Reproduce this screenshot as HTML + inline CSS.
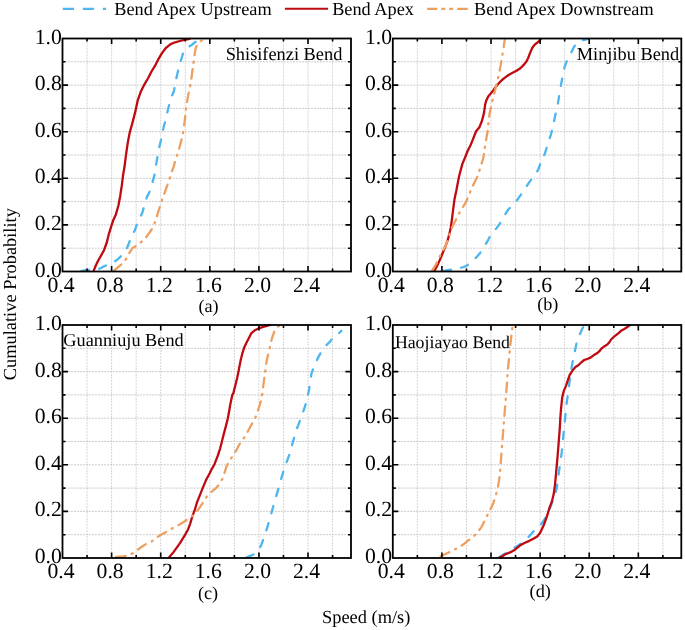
<!DOCTYPE html>
<html><head><meta charset="utf-8"><style>
html,body{margin:0;padding:0;background:#fff;width:685px;height:630px;overflow:hidden}
svg{will-change:transform}
svg text{font-family:"Liberation Serif", serif;fill:#000;text-rendering:geometricPrecision}
</style></head><body>
<svg width="685" height="630" viewBox="0 0 685 630" style="position:absolute;left:0;top:0">
<defs><clipPath id="clipa"><rect x="62.5" y="37" width="288.5" height="234.5"/></clipPath><clipPath id="clipb"><rect x="392.8" y="37" width="288.5" height="234.5"/></clipPath><clipPath id="clipc"><rect x="62.5" y="323.5" width="288.5" height="234.5"/></clipPath><clipPath id="clipd"><rect x="392.8" y="323.5" width="288.5" height="234.5"/></clipPath></defs>
<path d="M87.05 38.5V271.5M111.61 38.5V271.5M136.16 38.5V271.5M160.71 38.5V271.5M185.27 38.5V271.5M209.82 38.5V271.5M234.37 38.5V271.5M258.93 38.5V271.5M283.48 38.5V271.5M308.03 38.5V271.5M332.59 38.5V271.5" stroke="#d5d5d5" stroke-width="1" stroke-dasharray="2 1" stroke-dashoffset="2.8" fill="none"/>
<path d="M62.5 248.2H351M62.5 224.9H351M62.5 201.6H351M62.5 178.3H351M62.5 155H351M62.5 131.7H351M62.5 108.4H351M62.5 85.1H351M62.5 61.8H351" stroke="#cbcbcb" stroke-width="1" stroke-dasharray="2 1" stroke-dashoffset="0.6" fill="none"/>
<path d="M417.35 38.5V271.5M441.91 38.5V271.5M466.46 38.5V271.5M491.01 38.5V271.5M515.57 38.5V271.5M540.12 38.5V271.5M564.67 38.5V271.5M589.23 38.5V271.5M613.78 38.5V271.5M638.33 38.5V271.5M662.89 38.5V271.5" stroke="#d5d5d5" stroke-width="1" stroke-dasharray="2 1" stroke-dashoffset="2.8" fill="none"/>
<path d="M392.8 248.2H681.3M392.8 224.9H681.3M392.8 201.6H681.3M392.8 178.3H681.3M392.8 155H681.3M392.8 131.7H681.3M392.8 108.4H681.3M392.8 85.1H681.3M392.8 61.8H681.3" stroke="#cbcbcb" stroke-width="1" stroke-dasharray="2 1" stroke-dashoffset="0.6" fill="none"/>
<path d="M87.05 325V558M111.61 325V558M136.16 325V558M160.71 325V558M185.27 325V558M209.82 325V558M234.37 325V558M258.93 325V558M283.48 325V558M308.03 325V558M332.59 325V558" stroke="#d5d5d5" stroke-width="1" stroke-dasharray="2 1" stroke-dashoffset="2" fill="none"/>
<path d="M62.5 534.7H351M62.5 511.4H351M62.5 488.1H351M62.5 464.8H351M62.5 441.5H351M62.5 418.2H351M62.5 394.9H351M62.5 371.6H351M62.5 348.3H351" stroke="#cbcbcb" stroke-width="1" stroke-dasharray="2 1" stroke-dashoffset="0.6" fill="none"/>
<path d="M417.35 325V558M441.91 325V558M466.46 325V558M491.01 325V558M515.57 325V558M540.12 325V558M564.67 325V558M589.23 325V558M613.78 325V558M638.33 325V558M662.89 325V558" stroke="#d5d5d5" stroke-width="1" stroke-dasharray="2 1" stroke-dashoffset="2" fill="none"/>
<path d="M392.8 534.7H681.3M392.8 511.4H681.3M392.8 488.1H681.3M392.8 464.8H681.3M392.8 441.5H681.3M392.8 418.2H681.3M392.8 394.9H681.3M392.8 371.6H681.3M392.8 348.3H681.3" stroke="#cbcbcb" stroke-width="1" stroke-dasharray="2 1" stroke-dashoffset="0.6" fill="none"/>
<text x="225.67" y="60.0" font-size="18.35">Shisifenzi Bend</text>
<text x="576.77" y="59.6" font-size="18.35">Minjibu Bend</text>
<text x="63.35" y="346.0" font-size="18.3">Guanniuju Bend</text>
<text x="394.88" y="347.9" font-size="17.8">Haojiayao Bend</text>
<g clip-path="url(#clipa)">
<polyline points="81.6,270.8 86,270.2 90.3,269.9 97.4,269.6 101,268 104.6,266.1 110,263.9 116.1,260.6 119.9,257.3 125.9,250.7 128.1,245.3 130.8,238.1 134.9,230.2 136.9,224.3 140.2,217 142.2,213.1 144.8,203.9 146.8,197.3 150.7,189.5 152.7,181.6 154.7,174 156,165.4 157.3,157.6 158.6,149.7 160.6,141.8 161.9,135.2 163.9,126 165.8,119.5 167.8,110.3 170.6,99.1 173.9,91.2 175.8,80.7 178.5,68.8 181.1,59.7 183.1,53.1 185.7,48.5 189,46.5 192.3,44.5 195.5,41.9 200.1,39.9 204.1,38.9" fill="none" stroke="#4DB5F0" stroke-width="2.3" stroke-dasharray="7.5 10.3" stroke-linecap="round" stroke-linejoin="round"/>
<polyline points="93.6,270.9 95.8,265.5 98.5,260 101.3,255.1 104,250.2 106.8,242.5 108.9,233.8 111.3,226.2 113.2,220.3 115.9,214.4 118.5,205.2 120.2,196 121.8,185.5 123.1,175 124.5,166.8 126,154.9 127.7,143.1 129.7,132.6 132.3,123.4 135,112.9 137.7,100.4 141,91.2 144.3,84.6 148.2,78 151.5,71.5 154.8,66.2 158.1,59.7 162,53.1 166,47.8 170.6,44.1 175.2,42.3 179.8,41 184.4,39.9 189.6,38.9" fill="none" stroke="#BE0A10" stroke-width="2.3" stroke-linejoin="round" stroke-linecap="round"/>
<polyline points="113.9,270.6 118.8,266.6 123.2,262.8 127,257.8 129.7,252.4 132.5,248 136.3,245.8 140.7,242.5 145.4,238.1 149.4,232.8 152,228.9 154,224.9 155.9,219.7 157.9,213.1 159.9,206.5 162.5,198.7 165.8,189.5 169.1,180.3 171.1,173.3 173.7,166.8 175.7,158.9 177.7,153.6 179.6,147 181.6,139.2 183.6,130 184.9,119.5 186.2,106.3 187,101.7 189,91.2 190.9,82 192.3,71.5 193.6,62.3 194.6,54.4 195.5,49.1 196.9,45.2 198.8,42.6 202.1,40.2 205.4,38.9" fill="none" stroke="#EDA060" stroke-width="2.3" stroke-dasharray="9.5 6.5 1.2 6.5" stroke-linecap="round" stroke-linejoin="round"/>
</g>
<g clip-path="url(#clipb)">
<polyline points="443.6,270.9 449.6,269.9 457.8,268.8 466.1,266.1 471.5,262.2 475.4,258.4 479.7,253.5 484.1,247 488.1,240.1 491.4,233.5 496.6,228.2 499.9,223.6 503.8,216.4 508.3,209.5 514,203.6 517.8,199.2 523.5,190.9 527.3,185.2 531.7,178.9 534.9,174.4 538.1,170 540.6,163 543.8,156.6 546.3,149 548.2,142.7 550.8,135.1 553.3,124.9 555.6,113.8 558,102.7 559.6,93.1 561.2,83.6 562.8,75.7 564.4,67.7 566.7,61.4 569.1,56.6 571.5,51.9 573.9,47.1 577.1,42.3 581,40.4 585.8,39.5 588.2,38.9" fill="none" stroke="#4DB5F0" stroke-width="2.3" stroke-dasharray="7.5 10.3" stroke-linecap="round" stroke-linejoin="round"/>
<polyline points="434.3,271 437,266.1 439.8,260 442.5,253.5 445.3,246.9 448,239.2 449.6,232.7 450.8,227.5 451.9,219.7 453.2,209.2 454.6,198.7 456.3,190.8 457.8,182.9 459.4,175 462.3,164.1 465,157.6 467.6,151 470.9,144.4 473.5,137.8 476.1,131.3 479.4,127.3 482,120.8 484,112.9 485.2,104.3 486.3,100.4 488.2,96.4 492.2,91.8 495.5,87.2 498.8,83.3 502,80 505.3,77.4 508.6,75 512.6,72.8 516.5,70.8 520.4,68.2 523.7,64.9 526.4,61.6 528.3,57.7 530.3,52.4 532.3,47.8 534.9,44.5 538.2,41.9 540.8,39" fill="none" stroke="#BE0A10" stroke-width="2.3" stroke-linejoin="round" stroke-linecap="round"/>
<polyline points="432.1,270.6 436,264.4 440,256 443.4,249.9 445.4,246 448,239.4 450,232.8 452.6,226.2 455.9,219.7 458.5,214.4 462.4,207.8 465.7,202.6 469,194.7 472.3,186.8 475.6,180.3 478.2,175 479.4,170.7 481.4,164.1 483.4,157.6 484.7,148.4 486.2,139.2 487.6,131.3 488.6,120.8 489.7,112.9 490.9,107.6 492.2,101.7 493.5,96.4 495.5,88.6 497.4,80.7 499.2,72.8 500.7,64.9 502,57 503.4,49.1 504.7,39.9 504.9,38.9" fill="none" stroke="#EDA060" stroke-width="2.3" stroke-dasharray="9.5 6.5 1.2 6.5" stroke-linecap="round" stroke-linejoin="round"/>
</g>
<g clip-path="url(#clipc)">
<polyline points="246.6,557.3 253.1,554.7 258.2,551 261.2,545.2 264.1,537.2 267,528.4 269.9,518.2 272.8,508 275.8,497.7 278.7,487.5 281.6,477.3 283.8,470 286.3,462.9 288.9,455.9 290.8,449.6 292.7,442.6 295.2,434.3 297.1,428 299.6,421.6 302.2,414.7 305.4,405.2 307.3,398.2 309,389.9 310.2,382.3 311.5,373.4 314.1,366.4 317.2,359.4 320.4,353.3 325.5,346 330,341.6 334.4,335.9 337.6,334.6 341.4,330.8" fill="none" stroke="#4DB5F0" stroke-width="2.3" stroke-dasharray="7.5 10.3" stroke-linecap="round" stroke-linejoin="round"/>
<polyline points="169.3,557 172.8,553.1 176.6,547.9 180.3,542.6 184.9,535.1 187.9,529.8 190.1,523.8 192.4,516.2 194.7,510.2 196.9,502.7 199.9,495.1 202.9,487.6 206,480.1 209.7,473.3 212,468.6 214.5,464.2 217.7,455.9 220.2,448.3 222.1,440.7 224,433.1 225.9,426.1 227.8,418.5 229.1,411.5 230.4,403.9 232.3,395 233.4,393.1 235.3,385.5 237.2,377.8 238.5,371.5 239.7,365.1 241,358.8 242.3,353.7 244.2,347.4 246.7,342.3 249.3,337.2 251.2,333.4 255,330.2 258.8,328.3 263.2,326.8 267,325.8 270,325" fill="none" stroke="#BE0A10" stroke-width="2.3" stroke-linejoin="round" stroke-linecap="round"/>
<polyline points="116.2,556.9 122.9,556.4 129,555.4 133.6,552.8 137.7,549.7 141.8,546.7 145.9,544.1 151.5,541.6 156.1,538 160.7,534.9 166.3,531.9 172.4,528.3 179.6,524.5 185.6,520.7 190.1,517.7 193.9,514.7 198.4,509.4 202.9,502.7 206.7,496.6 211.2,492.1 215.7,488.4 219.5,483.8 222.5,478.6 224.8,471.8 226.6,466.1 229.7,461 232.9,455.3 236.1,450.8 239.3,444.5 243.1,439.4 246.9,433.1 250.7,426.1 253.9,420.4 256.4,415.3 258.9,407.7 260.8,401.3 262.2,394.3 263.5,384.2 264.5,376.6 265.5,369 266.4,362.6 267.7,356.3 269.3,349.9 270.8,342.3 272.7,336 274.6,330.9 277.2,327.1 280.4,325.3" fill="none" stroke="#EDA060" stroke-width="2.3" stroke-dasharray="9.5 6.5 1.2 6.5" stroke-linecap="round" stroke-linejoin="round"/>
</g>
<g clip-path="url(#clipd)">
<polyline points="499.5,557.2 502.5,555.1 507.1,552.4 513.1,548.6 519.1,544.9 524.4,541.1 529.7,535.8 534.9,529.8 540.2,525.3 544.7,519.2 548.5,511.7 551.5,504.2 554.5,496.6 556.8,487.6 558.3,477.1 559.8,465 561.6,453.5 562.9,440.8 564.1,428.1 565.4,415.4 566.7,402.7 568.6,390 570.2,375.7 571.4,368.7 573.1,359.4 574.9,351.2 576.6,343 578.9,336.6 582.4,328.4 584.2,325.6" fill="none" stroke="#4DB5F0" stroke-width="2.3" stroke-dasharray="7.5 10.3" stroke-linecap="round" stroke-linejoin="round"/>
<polyline points="499.2,557.5 501,556.9 505.5,554.2 510.1,552.4 515.3,549.4 519.9,545.6 524.4,543 528.9,541.1 533.4,538.8 537.2,536.6 540.2,532.8 544,524.5 547,516.2 549.2,508.7 552,501.2 553.8,493.6 555,484.6 556,474 556.8,465 557.8,453.5 558.8,440.8 559.7,429.4 560.3,418.6 561,409 562.2,397.6 563.8,390.9 566.1,385.6 567.8,380.4 569.6,375.1 572.5,370.5 575.4,367 578.4,365.2 581.3,362.3 584.2,360 587.7,358.8 590.6,357.6 593.5,355.3 597,353.3 599.4,351.2 601.7,348.3 604.1,346.5 607,344.8 609.3,342.4 611.1,339.5 613.4,337.2 615.7,335.4 618.6,333.1 621,330.8 623.9,329.2 626.2,327.8 628.6,326.1 629.8,325.2" fill="none" stroke="#BE0A10" stroke-width="2.3" stroke-linejoin="round" stroke-linecap="round"/>
<polyline points="440.7,556.4 445,554.3 450.7,551.4 457.9,547.9 463.6,544.3 467.9,540.7 472.9,537.1 477.9,532.1 481.4,527.1 485.7,518.6 489.3,511.4 492.9,504.3 495.7,495.7 497.9,487.1 499.3,478.6 500.2,470 502.4,441 504.3,417.2 506.2,393.4 507.9,369.6 510.2,345.8 512.6,325.6" fill="none" stroke="#EDA060" stroke-width="2.3" stroke-dasharray="9.5 6.5 1.2 6.5" stroke-linecap="round" stroke-linejoin="round"/>
</g>
<path d="M87.05 271.5v-3M87.05 38.5v3M111.61 271.5v-5.5M111.61 38.5v5.5M136.16 271.5v-3M136.16 38.5v3M160.71 271.5v-5.5M160.71 38.5v5.5M185.27 271.5v-3M185.27 38.5v3M209.82 271.5v-5.5M209.82 38.5v5.5M234.37 271.5v-3M234.37 38.5v3M258.93 271.5v-5.5M258.93 38.5v5.5M283.48 271.5v-3M283.48 38.5v3M308.03 271.5v-5.5M308.03 38.5v5.5M332.59 271.5v-3M332.59 38.5v3M62.5 248.2h3M351 248.2h-3M62.5 224.9h5.5M351 224.9h-5.5M62.5 201.6h3M351 201.6h-3M62.5 178.3h5.5M351 178.3h-5.5M62.5 155h3M351 155h-3M62.5 131.7h5.5M351 131.7h-5.5M62.5 108.4h3M351 108.4h-3M62.5 85.1h5.5M351 85.1h-5.5M62.5 61.8h3M351 61.8h-3" stroke="#000" stroke-width="1.6" fill="none"/>
<rect x="62.5" y="38.5" width="288.5" height="233" fill="none" stroke="#000" stroke-width="1.8"/>
<path d="M417.35 271.5v-3M417.35 38.5v3M441.91 271.5v-5.5M441.91 38.5v5.5M466.46 271.5v-3M466.46 38.5v3M491.01 271.5v-5.5M491.01 38.5v5.5M515.57 271.5v-3M515.57 38.5v3M540.12 271.5v-5.5M540.12 38.5v5.5M564.67 271.5v-3M564.67 38.5v3M589.23 271.5v-5.5M589.23 38.5v5.5M613.78 271.5v-3M613.78 38.5v3M638.33 271.5v-5.5M638.33 38.5v5.5M662.89 271.5v-3M662.89 38.5v3M392.8 248.2h3M681.3 248.2h-3M392.8 224.9h5.5M681.3 224.9h-5.5M392.8 201.6h3M681.3 201.6h-3M392.8 178.3h5.5M681.3 178.3h-5.5M392.8 155h3M681.3 155h-3M392.8 131.7h5.5M681.3 131.7h-5.5M392.8 108.4h3M681.3 108.4h-3M392.8 85.1h5.5M681.3 85.1h-5.5M392.8 61.8h3M681.3 61.8h-3" stroke="#000" stroke-width="1.6" fill="none"/>
<rect x="392.8" y="38.5" width="288.5" height="233" fill="none" stroke="#000" stroke-width="1.8"/>
<path d="M87.05 558v-3M87.05 325v3M111.61 558v-5.5M111.61 325v5.5M136.16 558v-3M136.16 325v3M160.71 558v-5.5M160.71 325v5.5M185.27 558v-3M185.27 325v3M209.82 558v-5.5M209.82 325v5.5M234.37 558v-3M234.37 325v3M258.93 558v-5.5M258.93 325v5.5M283.48 558v-3M283.48 325v3M308.03 558v-5.5M308.03 325v5.5M332.59 558v-3M332.59 325v3M62.5 534.7h3M351 534.7h-3M62.5 511.4h5.5M351 511.4h-5.5M62.5 488.1h3M351 488.1h-3M62.5 464.8h5.5M351 464.8h-5.5M62.5 441.5h3M351 441.5h-3M62.5 418.2h5.5M351 418.2h-5.5M62.5 394.9h3M351 394.9h-3M62.5 371.6h5.5M351 371.6h-5.5M62.5 348.3h3M351 348.3h-3" stroke="#000" stroke-width="1.6" fill="none"/>
<rect x="62.5" y="325" width="288.5" height="233" fill="none" stroke="#000" stroke-width="1.8"/>
<path d="M417.35 558v-3M417.35 325v3M441.91 558v-5.5M441.91 325v5.5M466.46 558v-3M466.46 325v3M491.01 558v-5.5M491.01 325v5.5M515.57 558v-3M515.57 325v3M540.12 558v-5.5M540.12 325v5.5M564.67 558v-3M564.67 325v3M589.23 558v-5.5M589.23 325v5.5M613.78 558v-3M613.78 325v3M638.33 558v-5.5M638.33 325v5.5M662.89 558v-3M662.89 325v3M392.8 534.7h3M681.3 534.7h-3M392.8 511.4h5.5M681.3 511.4h-5.5M392.8 488.1h3M681.3 488.1h-3M392.8 464.8h5.5M681.3 464.8h-5.5M392.8 441.5h3M681.3 441.5h-3M392.8 418.2h5.5M681.3 418.2h-5.5M392.8 394.9h3M681.3 394.9h-3M392.8 371.6h5.5M681.3 371.6h-5.5M392.8 348.3h3M681.3 348.3h-3" stroke="#000" stroke-width="1.6" fill="none"/>
<rect x="392.8" y="325" width="288.5" height="233" fill="none" stroke="#000" stroke-width="1.8"/>
<text x="61.8" y="276.5" text-anchor="end" font-size="21.7">0.0</text>
<text x="61.8" y="229.9" text-anchor="end" font-size="21.7">0.2</text>
<text x="61.8" y="183.3" text-anchor="end" font-size="21.7">0.4</text>
<text x="61.8" y="136.7" text-anchor="end" font-size="21.7">0.6</text>
<text x="61.8" y="90.1" text-anchor="end" font-size="21.7">0.8</text>
<text x="61.8" y="43.5" text-anchor="end" font-size="21.7">1.0</text>
<text x="61" y="291.7" text-anchor="middle" font-size="21.7">0.4</text>
<text x="110.11" y="291.7" text-anchor="middle" font-size="21.7">0.8</text>
<text x="159.21" y="291.7" text-anchor="middle" font-size="21.7">1.2</text>
<text x="208.32" y="291.7" text-anchor="middle" font-size="21.7">1.6</text>
<text x="257.43" y="291.7" text-anchor="middle" font-size="21.7">2.0</text>
<text x="306.53" y="291.7" text-anchor="middle" font-size="21.7">2.4</text>
<text x="392.1" y="276.5" text-anchor="end" font-size="21.7">0.0</text>
<text x="392.1" y="229.9" text-anchor="end" font-size="21.7">0.2</text>
<text x="392.1" y="183.3" text-anchor="end" font-size="21.7">0.4</text>
<text x="392.1" y="136.7" text-anchor="end" font-size="21.7">0.6</text>
<text x="392.1" y="90.1" text-anchor="end" font-size="21.7">0.8</text>
<text x="392.1" y="43.5" text-anchor="end" font-size="21.7">1.0</text>
<text x="391.3" y="291.7" text-anchor="middle" font-size="21.7">0.4</text>
<text x="440.41" y="291.7" text-anchor="middle" font-size="21.7">0.8</text>
<text x="489.51" y="291.7" text-anchor="middle" font-size="21.7">1.2</text>
<text x="538.62" y="291.7" text-anchor="middle" font-size="21.7">1.6</text>
<text x="587.73" y="291.7" text-anchor="middle" font-size="21.7">2.0</text>
<text x="636.83" y="291.7" text-anchor="middle" font-size="21.7">2.4</text>
<text x="61.8" y="563" text-anchor="end" font-size="21.7">0.0</text>
<text x="61.8" y="516.4" text-anchor="end" font-size="21.7">0.2</text>
<text x="61.8" y="469.8" text-anchor="end" font-size="21.7">0.4</text>
<text x="61.8" y="423.2" text-anchor="end" font-size="21.7">0.6</text>
<text x="61.8" y="376.6" text-anchor="end" font-size="21.7">0.8</text>
<text x="61.8" y="330" text-anchor="end" font-size="21.7">1.0</text>
<text x="61" y="578.2" text-anchor="middle" font-size="21.7">0.4</text>
<text x="110.11" y="578.2" text-anchor="middle" font-size="21.7">0.8</text>
<text x="159.21" y="578.2" text-anchor="middle" font-size="21.7">1.2</text>
<text x="208.32" y="578.2" text-anchor="middle" font-size="21.7">1.6</text>
<text x="257.43" y="578.2" text-anchor="middle" font-size="21.7">2.0</text>
<text x="306.53" y="578.2" text-anchor="middle" font-size="21.7">2.4</text>
<text x="392.1" y="563" text-anchor="end" font-size="21.7">0.0</text>
<text x="392.1" y="516.4" text-anchor="end" font-size="21.7">0.2</text>
<text x="392.1" y="469.8" text-anchor="end" font-size="21.7">0.4</text>
<text x="392.1" y="423.2" text-anchor="end" font-size="21.7">0.6</text>
<text x="392.1" y="376.6" text-anchor="end" font-size="21.7">0.8</text>
<text x="392.1" y="330" text-anchor="end" font-size="21.7">1.0</text>
<text x="391.3" y="578.2" text-anchor="middle" font-size="21.7">0.4</text>
<text x="440.41" y="578.2" text-anchor="middle" font-size="21.7">0.8</text>
<text x="489.51" y="578.2" text-anchor="middle" font-size="21.7">1.2</text>
<text x="538.62" y="578.2" text-anchor="middle" font-size="21.7">1.6</text>
<text x="587.73" y="578.2" text-anchor="middle" font-size="21.7">2.0</text>
<text x="636.83" y="578.2" text-anchor="middle" font-size="21.7">2.4</text>
<text x="208.5" y="311.5" text-anchor="middle" font-size="18.2">(a)</text>
<text x="547.8" y="309.5" text-anchor="middle" font-size="18.2">(b)</text>
<text x="208.0" y="599" text-anchor="middle" font-size="18.2">(c)</text>
<text x="540.2" y="596.5" text-anchor="middle" font-size="18.2">(d)</text>
<text x="321.97" y="622.5" font-size="18.4">Speed (m/s)</text>
<text transform="translate(15.7 380.25) rotate(-90)" font-size="18.4">Cumulative Probability</text>
<path d="M62.8 8.9H74M82.8 8.9H94.1M102.9 8.9H106.1" stroke="#4DB5F0" stroke-width="2.1" fill="none"/>
<text x="114.27" y="14.5" font-size="18.3">Bend Apex Upstream</text>
<path d="M284.9 8.8H328.1" stroke="#BE0A10" stroke-width="2.1" fill="none"/>
<text x="332.17" y="14.5" font-size="18.3">Bend Apex</text>
<path d="M427.1 8.9H437.2M441.2 8.9H445.3M449.2 8.9H453.1M457.2 8.9H467.8" stroke="#EDA060" stroke-width="2.1" fill="none"/>
<text x="473.97" y="14.5" font-size="18.3">Bend Apex Downstream</text>
</svg>
</body></html>
